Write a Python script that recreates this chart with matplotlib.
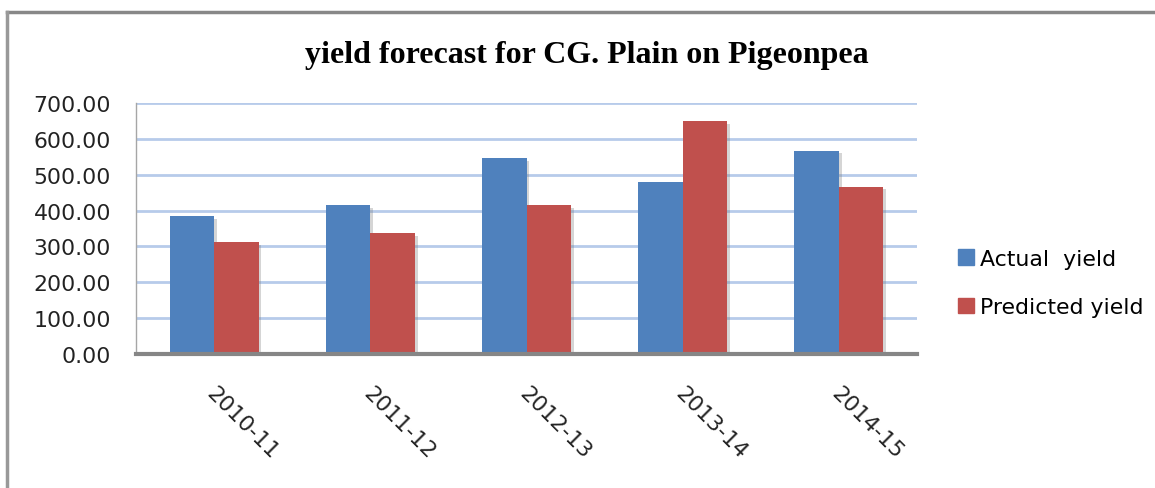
import matplotlib
matplotlib.use("Agg")
import matplotlib.pyplot as plt
import matplotlib.patheffects as pe
from matplotlib.lines import Line2D
from matplotlib.patches import Patch
from matplotlib.transforms import ScaledTranslation
import numpy as np

# Yield per season (kg/ha)
seasons = ["2010-11", "2011-12", "2012-13", "2013-14", "2014-15"]
actual_yield = [385, 416, 546, 480, 567]
predicted_yield = [313, 338, 416, 649, 467]
yticks = [0, 100, 200, 300, 400, 500, 600, 700]

BLUE = "#4f81bd"
RED = "#c0504d"
FS = 15.8

fig = plt.figure(figsize=(11.55, 4.89), dpi=100)
ax = fig.add_axes([136 / 1155, 1 - 355 / 489, 781 / 1155, 251 / 489])

x = np.arange(len(seasons))
w = 0.285
shadow = [pe.SimplePatchShadow(offset=(2, -2), shadow_rgbFace="#777777", alpha=0.3), pe.Normal()]
ax.bar(x - w / 2, actual_yield, w, color=BLUE, zorder=3, path_effects=shadow)
ax.bar(x + w / 2, predicted_yield, w, color=RED, zorder=3, path_effects=shadow)

ax.set_xlim(-0.5, len(seasons) - 0.5)
ax.set_ylim(0, 700)
ax.set_yticks(yticks)
ax.set_yticklabels([f"{v:.2f}" for v in yticks])
ax.yaxis.grid(True, color="#b7cbea", linewidth=2, zorder=0)
ax.set_axisbelow(True)

for s in ["top", "right"]:
    ax.spines[s].set_visible(False)
ax.spines["left"].set_color("#a6a6a6")
ax.spines["left"].set_linewidth(1)
ax.spines["bottom"].set_color("#868686")
ax.spines["bottom"].set_linewidth(3)
ax.spines["bottom"].set_zorder(4)

ax.tick_params(axis="y", length=0, pad=18, labelsize=FS, labelcolor="#222222")
ax.tick_params(axis="x", length=0, pad=21, labelsize=FS, labelcolor="#222222")
ax.set_xticks(x)
ax.set_xticklabels(seasons, rotation=-45, ha="left", va="top", rotation_mode="anchor")
shift = ScaledTranslation(3 / 100, 0, fig.dpi_scale_trans)
for lbl in ax.get_xticklabels():
    lbl.set_transform(lbl.get_transform() + shift)

fig.text(587 / 1155, 1 - 55 / 489, "yield forecast for CG. Plain on Pigeonpea",
         ha="center", va="center", fontsize=23, fontweight="bold",
         family="Liberation Serif")

handles = [Patch(color=BLUE, label="Actual  yield"), Patch(color=RED, label="Predicted yield")]
fig.legend(handles=handles, loc="center left", bbox_to_anchor=(958 / 1155, 1 - 284 / 489),
           frameon=False, fontsize=FS, handlelength=0.72, handleheight=0.72,
           handletextpad=0.3, labelspacing=1.3, borderpad=0, borderaxespad=0)

# chart frame (top and left edges)
fig.add_artist(Line2D([7 / 1155, 1], [1 - 13 / 489, 1 - 13 / 489], color="#888888", lw=2.5,
                      transform=fig.transFigure))
fig.add_artist(Line2D([7 / 1155, 7 / 1155], [0, 1 - 13 / 489], color="#999999", lw=2.5,
                      transform=fig.transFigure))

fig.savefig("out.png", dpi=100)
